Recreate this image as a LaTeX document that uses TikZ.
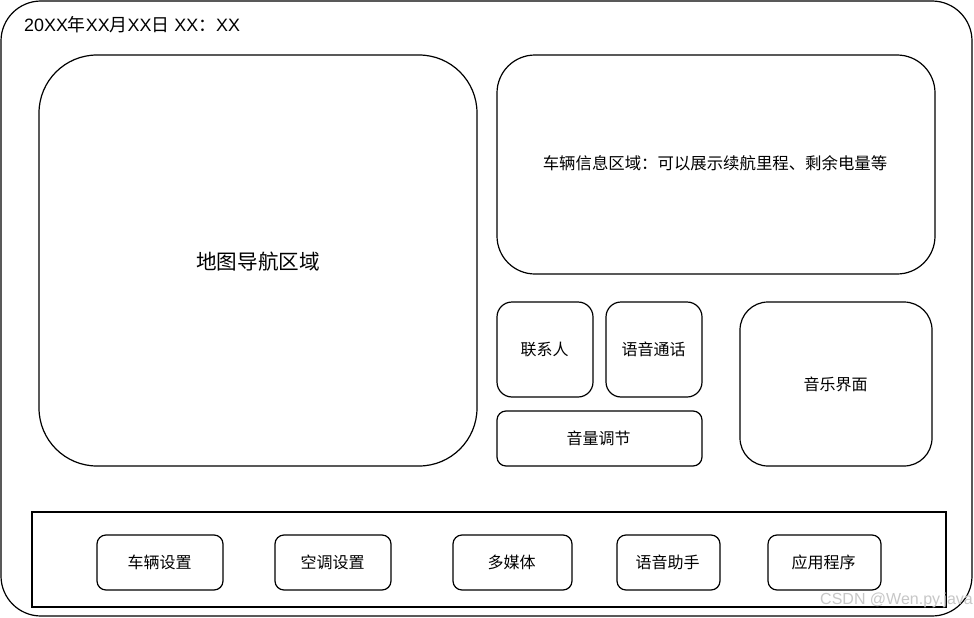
\documentclass[tikz,border=0pt]{standalone}
\usepackage{fontspec}
\setmainfont{Noto Sans CJK SC}
\newfontfamily\latf{Liberation Sans}
\begin{document}
\begin{tikzpicture}[x=1pt,y=-1pt,
  box/.style={draw=black,line width=1.2pt,fill=white},
  lbl/.style={font=\fontsize{16}{19}\selectfont,text=black,inner sep=0pt}]
\useasboundingbox (0,0) rectangle (974,618);
\fill[white] (0,0) rectangle (974,618);
% outer frame
\draw[box,rounded corners=40pt] (1,1) rectangle (972,616);
\node[lbl,anchor=west,font=\fontsize{17.9}{21}\selectfont] (date) at (24,25) {{\latf 20XX}年{\latf XX}月{\latf XX}日{\latf\ XX}：{\latf XX}};
% map
\draw[box,rounded corners=58pt] (39,55) rectangle (477,466);
\node[lbl,font=\fontsize{20.6}{24}\selectfont] (map) at (258,262) {地图导航区域};
% vehicle info
\draw[box,rounded corners=38pt] (497,55) rectangle (935,274);
\node[lbl,font=\fontsize{16.4}{19}\selectfont] (info) at (715,163) {车辆信息区域：可以展示续航里程、剩余电量等};
% contacts, call
\draw[box,rounded corners=15pt] (497,302) rectangle (593,397);
\node[lbl] (contact) at (544.5,349.5) {联系人};
\draw[box,rounded corners=15pt] (606,302) rectangle (702,397);
\node[lbl] (call) at (653.5,349.5) {语音通话};
\draw[box,rounded corners=9pt] (497,411) rectangle (702,466);
\node[lbl] (volume) at (598.5,438.5) {音量调节};
% music
\draw[box,rounded corners=28pt] (740,302) rectangle (932,466);
\node[lbl] (music) at (835.5,384) {音乐界面};
% bottom bar
\draw[box,line width=1.1pt] (32,512) rectangle (946,607);
\draw[box,rounded corners=9pt] (97,535) rectangle (223,590);
\node[lbl] (car) at (159.5,562.5) {车辆设置};
\draw[box,rounded corners=9pt] (275,535) rectangle (391,590);
\node[lbl] (ac) at (332.5,562.5) {空调设置};
\draw[box,rounded corners=9pt] (453,535) rectangle (572,590);
\node[lbl] (media) at (511.5,562.5) {多媒体};
\draw[box,rounded corners=9pt] (617,535) rectangle (720,590);
\node[lbl] (assist) at (667.5,562.5) {语音助手};
\draw[box,rounded corners=9pt] (768,535) rectangle (881,590);
\node[lbl] (apps) at (823.5,562.5) {应用程序};
% watermark
\node[anchor=east,inner sep=0pt,font=\latf\fontsize{16}{19}\selectfont,text=black!22] (wm) at (973,600) {CSDN @Wen.py.java};
\end{tikzpicture}
\end{document}
